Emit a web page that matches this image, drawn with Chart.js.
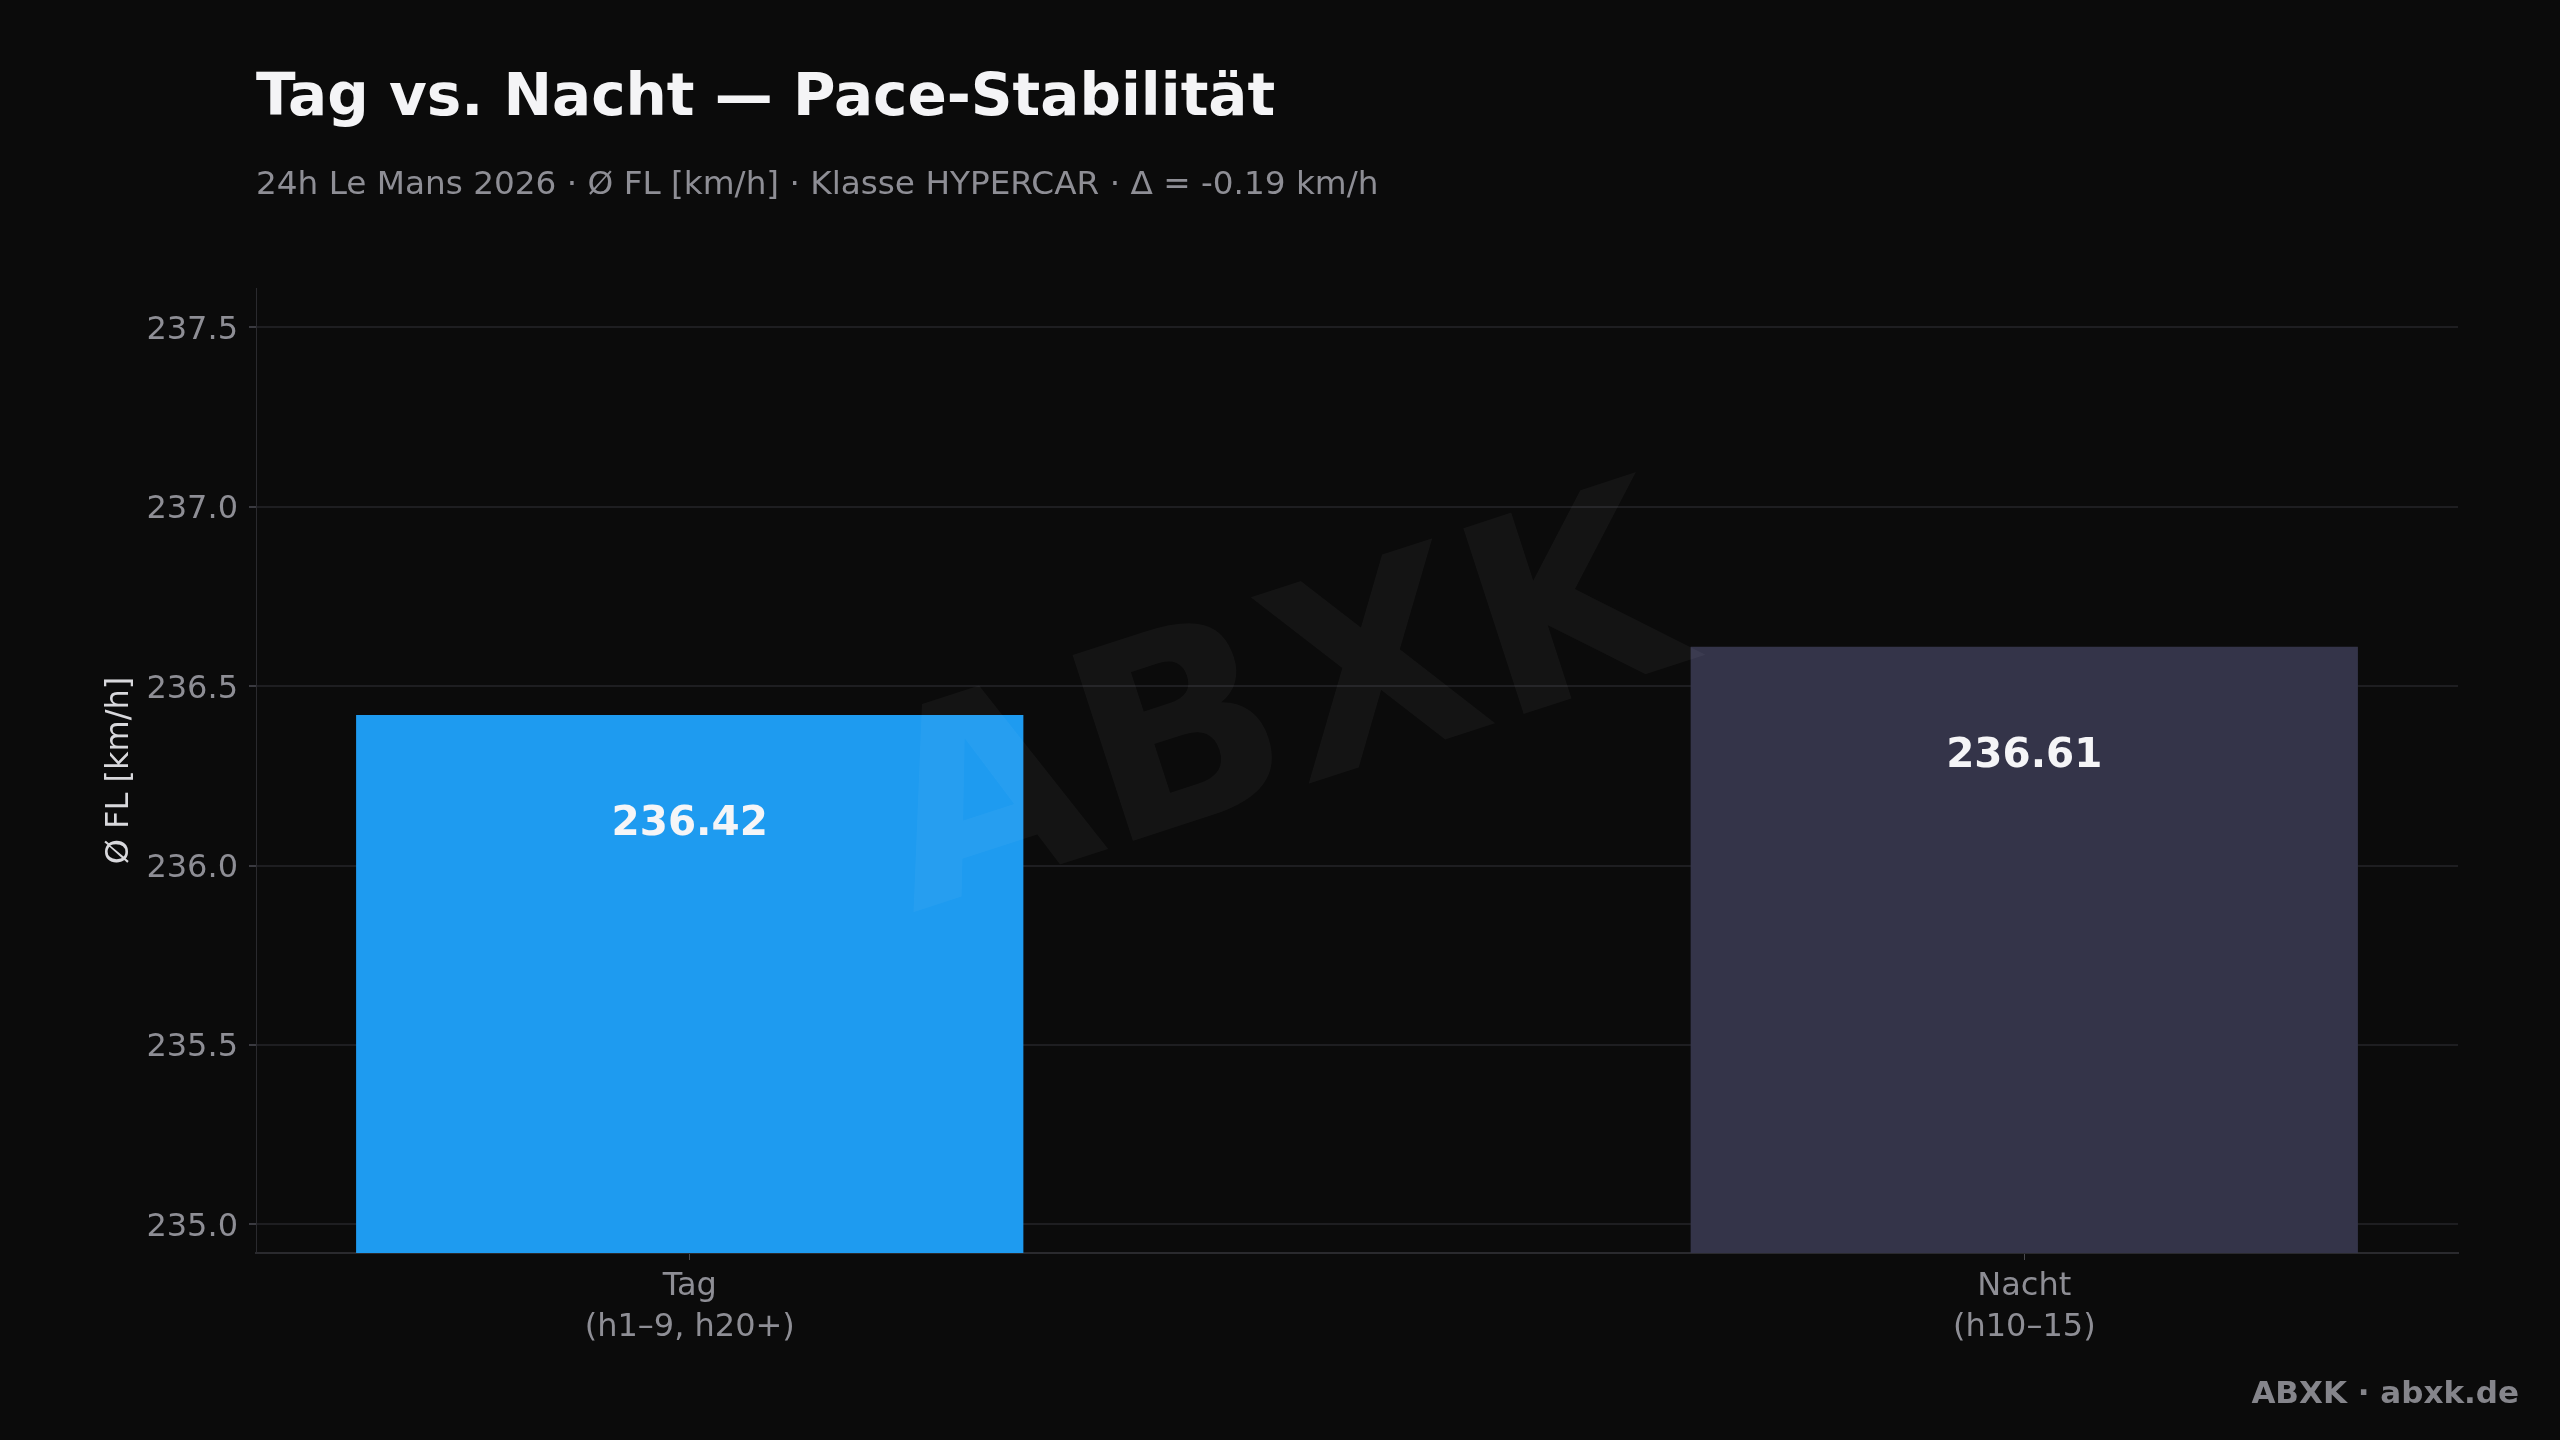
<!DOCTYPE html>
<html>
<head>
<meta charset="utf-8">
<script src="https://cdn.jsdelivr.net/npm/chart.js@4"></script>
<style>
  html, body { margin: 0; padding: 0; background: #0b0b0b; }
  #wrap { width: 2560px; height: 1440px; position: relative; }
</style>
</head>
<body>
<div id="wrap"><canvas id="pace"></canvas></div>
<script>
const kategorien = [["Tag", "(h1–9, h20+)"], ["Nacht", "(h10–15)"]];
const paceWerte = [236.42, 236.61];
const balkenFarben = ["#1e9bf0", "#343449"];
const yTicks = [235.0, 235.5, 236.0, 236.5, 237.0, 237.5];

const titel = "Tag vs. Nacht — Pace-Stabilität";
const untertitel = "24h Le Mans 2026 · Ø FL [km/h] · Klasse HYPERCAR · Δ = -0.19 km/h";
const fusszeile = "ABXK · abxk.de";
const schrift = "'DejaVu Sans', 'Noto Sans', sans-serif";

// Hintergrund, Titel, Wasserzeichen und Werte am Balken
const deko = {
    id: "deko",
    beforeDraw(chart) {
        const ctx = chart.ctx;
        ctx.save();
        ctx.fillStyle = "#0b0b0b";
        ctx.fillRect(0, 0, chart.width, chart.height);
        ctx.textAlign = "left";
        ctx.textBaseline = "alphabetic";
        ctx.fillStyle = "#f4f4f6";
        ctx.font = "bold 58px " + schrift;
        ctx.fillText(titel, 256, 115);
        ctx.fillStyle = "#8e8e95";
        ctx.font = "32.7px " + schrift;
        ctx.fillText(untertitel, 256, 194);
        ctx.textAlign = "right";
        ctx.fillStyle = "#85858b";
        ctx.font = "bold 31px " + schrift;
        ctx.fillText(fusszeile, 2519, 1403);
        ctx.restore();
    },
    afterDatasetsDraw(chart) {
        const ctx = chart.ctx;
        ctx.save();
        ctx.translate(1305, 785);
        ctx.rotate(-18 * Math.PI / 180);
        ctx.font = "bold 268px " + schrift;
        ctx.fillStyle = "rgba(255,255,255,0.04)";
        ctx.textAlign = "center";
        ctx.textBaseline = "alphabetic";
        ctx.fillText("ABXK", 0, 0);
        ctx.restore();
    },
    afterDraw(chart) {
        const ctx = chart.ctx;
        const meta = chart.getDatasetMeta(0);
        ctx.save();
        ctx.font = "bold 40.5px " + schrift;
        ctx.fillStyle = "#f5f5f7";
        ctx.textAlign = "center";
        ctx.textBaseline = "middle";
        meta.data.forEach((bar, i) => {
            ctx.fillText(paceWerte[i].toFixed(2), bar.x, bar.y + 110);
        });
        ctx.restore();
    },
};

new Chart(document.querySelector("#pace").getContext("2d"), {
    type: "bar",
    data: {
        datasets: [{
            data: paceWerte.map((v, i) => ({ x: i, y: v })),
            backgroundColor: balkenFarben,
            borderWidth: 0,
            barPercentage: 0.5,
            categoryPercentage: 1.0,
        }],
    },
    options: {
        responsive: true,
        maintainAspectRatio: false,
        animation: false,
        devicePixelRatio: 1,
        layout: {
            padding: { left: 0, right: 102, top: 288, bottom: 0 },
        },
        plugins: {
            legend: { display: false },
            tooltip: { enabled: false },
        },
        scales: {
            x: {
                type: "linear",
                offset: false,
                min: -0.325,
                max: 1.325,
                afterBuildTicks: (scale) => {
                    scale.ticks = kategorien.map((_, i) => ({ value: i }));
                },
                afterFit: (scale) => { scale.height = 187; },
                ticks: {
                    callback: (wert) => kategorien[wert],
                    color: "#8e8e95",
                    font: { family: schrift, size: 32, lineHeight: 1.28 },
                    padding: 6,
                    maxRotation: 0,
                    autoSkip: false,
                },
                grid: {
                    offset: false,
                    drawOnChartArea: false,
                    drawTicks: true,
                    tickLength: 7,
                    tickColor: "#4a4a50",
                },
                border: { color: "#2a2a2e", width: 2 },
            },
            y: {
                min: 234.92,
                max: 237.61,
                afterBuildTicks: (scale) => {
                    scale.ticks = yTicks.map((v) => ({ value: v }));
                },
                afterFit: (scale) => { scale.width = 256; },
                ticks: {
                    callback: (wert) => wert.toFixed(1),
                    color: "#8e8e95",
                    font: { family: schrift, size: 32 },
                    padding: 11,
                    labelOffset: 3,
                },
                grid: {
                    color: "#1e1e21",
                    lineWidth: 2,
                    tickLength: 7,
                    tickColor: "#3a3a40",
                },
                border: { color: "#2a2a2e", width: 1 },
                title: {
                    display: true,
                    text: "Ø FL [km/h]",
                    color: "#d8d8dc",
                    font: { family: schrift, size: 32 },
                    padding: { top: 100, bottom: 0 },
                },
            },
        },
    },
    plugins: [deko],
});
</script>
</body>
</html>
